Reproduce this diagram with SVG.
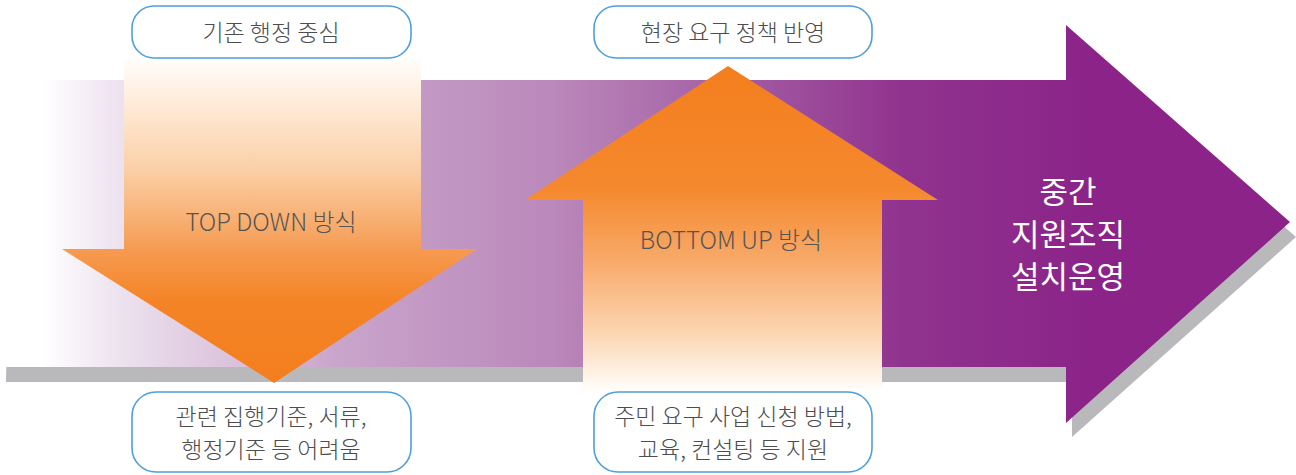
<svg xmlns="http://www.w3.org/2000/svg" width="1296" height="475" viewBox="0 0 1296 475">
<style>
.box{fill:#ffffff;stroke:#4f9fdc;stroke-width:1.6}
.t{font-family:"Noto Sans CJK KR","Noto Sans",sans-serif;font-size:23px;fill:#4d4d4d;text-anchor:middle;font-weight:300}
.lbl{font-family:"Noto Sans CJK KR","Noto Sans",sans-serif;font-size:24px;fill:#555555;text-anchor:middle;font-weight:300}
.w{font-family:"Noto Sans CJK KR","Noto Sans",sans-serif;font-size:31px;fill:#ffffff;text-anchor:middle;font-weight:400}
</style>
<defs>
<linearGradient id="pg" gradientUnits="userSpaceOnUse" x1="10" y1="0" x2="1100" y2="0">
<stop offset="0" stop-color="#ffffff"/>
<stop offset="0.03" stop-color="#ffffff"/>
<stop offset="0.1" stop-color="#ede2ef"/>
<stop offset="0.3" stop-color="#c9a5cb"/>
<stop offset="0.5" stop-color="#ba88ba"/>
<stop offset="0.66" stop-color="#a45ea4"/>
<stop offset="0.82" stop-color="#90338e"/>
<stop offset="1" stop-color="#8b2389"/>
</linearGradient>
<linearGradient id="dg" gradientUnits="userSpaceOnUse" x1="0" y1="55" x2="0" y2="383">
<stop offset="0" stop-color="#ffffff"/>
<stop offset="0.1" stop-color="#fff2e4"/>
<stop offset="0.35" stop-color="#fbcfa6"/>
<stop offset="0.6" stop-color="#f69a50"/>
<stop offset="0.75" stop-color="#f48426"/>
<stop offset="1" stop-color="#f37e1e"/>
</linearGradient>
<linearGradient id="ug" gradientUnits="userSpaceOnUse" x1="0" y1="66" x2="0" y2="392">
<stop offset="0" stop-color="#f37e1d"/>
<stop offset="0.38" stop-color="#f5892e"/>
<stop offset="0.6" stop-color="#f8aa6a"/>
<stop offset="0.82" stop-color="#fcd6b2"/>
<stop offset="0.95" stop-color="#fff3e8"/>
<stop offset="1" stop-color="#ffffff"/>
</linearGradient>
</defs>

<g id="main-arrow">
<path d="M12 95 L1072 95 L1072 40 L1296 237 L1072 437 L1072 382 L6 382 Z" fill="#b9b9bb"/>
<path d="M6 80 L1066 80 L1066 25 L1290 222 L1066 423 L1066 367 L6 367 Z" fill="url(#pg)"/>
<text class="w" x="1068" y="203">중간</text>
<text class="w" x="1068" y="246">지원조직</text>
<text class="w" x="1068" y="288">설치운영</text>
</g>

<g id="connectors">
<g id="top-down-arrow">
<path d="M124 55 L421 55 L421 249 L477 249 L274 383 L62 249 L124 249 Z" fill="url(#dg)"/>
<text class="lbl" x="271" y="231">TOP DOWN 방식</text>
</g>
<g id="bottom-up-arrow">
<path d="M728 66 L938 200 L882 200 L882 392 L583 392 L583 200 L525 200 Z" fill="url(#ug)"/>
<text class="lbl" x="731" y="249">BOTTOM UP 방식</text>
</g>
</g>

<g id="box-top-left">
<rect class="box" x="132" y="6" width="279" height="52" rx="22"/>
<text class="t" x="271" y="41">기존 행정 중심</text>
</g>
<g id="box-top-right">
<rect class="box" x="594" y="6" width="278" height="52" rx="22"/>
<text class="t" x="733" y="41">현장 요구 정책 반영</text>
</g>
<g id="box-bottom-left">
<rect class="box" x="132" y="392" width="279" height="80" rx="24"/>
<text class="t" x="271" y="425">관련 집행기준, 서류,</text>
<text class="t" x="271" y="458">행정기준 등 어려움</text>
</g>
<g id="box-bottom-right">
<rect class="box" x="594" y="392" width="278" height="80" rx="24"/>
<text class="t" x="733" y="425">주민 요구 사업 신청 방법,</text>
<text class="t" x="733" y="458">교육, 컨설팅 등 지원</text>
</g>
</svg>
